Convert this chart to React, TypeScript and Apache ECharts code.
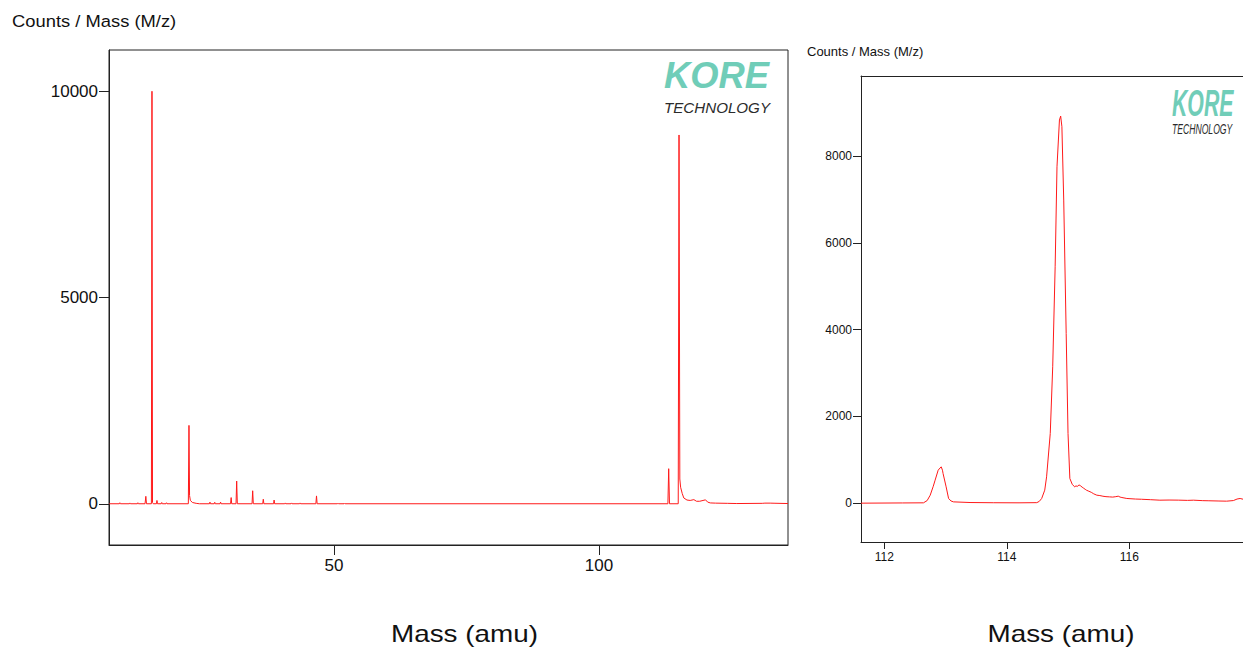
import React, { useEffect, useRef } from "react";
import * as echarts from "echarts";

// Survey spectrum (full mass range): [mass (amu), counts]
const surveySpectrum: [number, number][] = [
  [7.6, 0],
  [9.5, 0], [9.6, 25], [9.7, 0],
  [11.4, 0], [11.5, 20], [11.6, 0],
  [12.9, 0], [13.0, 25], [13.1, 0],
  [14.35, 0], [14.5, 180], [14.62, 0],
  [15.55, 0], [15.66, 10000], [15.76, 30], [15.9, 0],
  [16.5, 0], [16.6, 80], [16.7, 0],
  [17.4, 0], [17.5, 30], [17.6, 0],
  [18.3, 0], [18.4, 25], [18.5, 0],
  [22.52, 0], [22.64, 1900], [22.75, 200], [22.9, 80], [23.3, 30], [24.0, 10], [24.6, 0],
  [26.5, 0], [26.6, 40], [26.7, 0],
  [27.4, 0], [27.5, 35], [27.6, 0],
  [28.5, 0], [28.6, 40], [28.7, 0],
  [30.48, 0], [30.6, 150], [30.7, 0],
  [31.52, 0], [31.64, 550], [31.76, 0],
  [34.54, 0], [34.66, 315], [34.78, 0],
  [36.55, 0], [36.66, 110], [36.77, 0],
  [38.6, 0], [38.7, 90], [38.8, 0],
  [40.7, 0], [40.8, 20], [40.9, 0],
  [41.9, 0], [42.0, 20], [42.1, 0],
  [43.5, 0], [43.6, 20], [43.7, 0],
  [46.58, 0], [46.7, 190], [46.82, 0],
  [50.65, 0], [50.75, 15], [50.85, 0],
  [51.9, 0], [52.0, 15], [52.1, 0],
  [113.0, 0], [113.15, 850], [113.3, 0],
  [114.95, 0], [115.1, 8940], [115.25, 600], [115.4, 400], [115.7, 250], [116.0, 140],
  [116.6, 90], [117.2, 80], [117.9, 100], [118.4, 60], [119.0, 60], [120.1, 95],
  [120.5, 40], [121.0, 20], [122.0, 15], [124.2, 10], [126.0, 5], [130.8, 10],
  [131.3, 15], [132.3, 15], [133.2, 12], [135.66, 5],
];

// Zoomed spectrum around 112–118 amu: [mass (amu), counts]
const zoomSpectrum: [number, number][] = [
  [111.62, 0], [112.3, 5], [112.64, 8], [112.7, 60], [112.75, 184], [112.8, 390],
  [112.83, 530], [112.88, 760], [112.91, 810], [112.93, 837], [112.95, 760],
  [112.96, 684], [113.01, 376], [113.05, 108], [113.09, 50], [113.13, 30],
  [113.4, 15], [113.78, 10], [114.2, 8], [114.49, 12], [114.53, 40], [114.57, 108],
  [114.62, 300], [114.65, 607], [114.71, 1607], [114.75, 3143], [114.79, 5448],
  [114.82, 7753], [114.86, 8830], [114.88, 8922], [114.9, 8676], [114.93, 6986],
  [114.97, 3912], [115.0, 1607], [115.03, 569], [115.07, 430], [115.11, 376],
  [115.13, 400], [115.15, 385], [115.18, 420], [115.2, 405], [115.23, 370],
  [115.25, 350], [115.28, 320], [115.3, 300], [115.34, 275], [115.38, 250],
  [115.42, 215], [115.47, 184], [115.52, 175], [115.57, 160], [115.62, 150],
  [115.68, 145], [115.73, 140], [115.78, 150], [115.82, 161], [115.85, 140],
  [115.88, 130], [115.96, 108], [116.1, 95], [116.2, 90], [116.35, 80], [116.5, 69],
  [116.65, 72], [116.8, 70], [116.95, 64], [117.05, 69], [117.2, 58], [117.3, 55],
  [117.45, 50], [117.59, 46], [117.7, 60], [117.76, 95], [117.81, 108], [117.86, 90],
];

const surveyXTicks = [50, 100];
const surveyYTicks = [0, 5000, 10000];
const zoomXTicks = [112, 114, 116];
const zoomYTicks = [0, 2000, 4000, 6000, 8000];

const FONT = "Liberation Sans";
const AXIS_COLOR = "#222";
const LABEL_COLOR = "#111";
const LINE_COLOR = "#ff1a1a";
const TEAL = "#70cdb8";

const plain = (v: number) => String(v);

function logo(x: number, koreY: number, techY: number, koreSize: number, techSize: number, sx: number) {
  return [
    {
      type: "text",
      x,
      y: koreY,
      scaleX: sx,
      style: {
        text: "KORE",
        fill: TEAL,
        font: `italic bold ${koreSize}px "${FONT}"`,
        textAlign: "left",
        textVerticalAlign: "middle",
      },
    },
    {
      type: "text",
      x,
      y: techY,
      scaleX: sx,
      style: {
        text: "TECHNOLOGY",
        fill: "#2b2b2b",
        font: `italic ${techSize}px "${FONT}"`,
        textAlign: "left",
        textVerticalAlign: "middle",
      },
    },
  ];
}

export default function App() {
  const ref = useRef<HTMLDivElement>(null);

  useEffect(() => {
    if (!ref.current) return;
    const chart = echarts.init(ref.current, null, { renderer: "svg" });

    const axisLine = { show: true, onZero: false, lineStyle: { color: AXIS_COLOR, width: 1 } };

    chart.setOption({
      animation: false,
      backgroundColor: "#fff",
      grid: [
        { left: 109, top: 50, width: 679, height: 495, show: true, borderColor: AXIS_COLOR, borderWidth: 1 },
        // the zoom panel runs off the right edge of the page, so it has no right border
        { left: 861, top: 76, width: 382, height: 466, show: false },
      ],
      xAxis: [
        {
          type: "value",
          gridIndex: 0,
          min: 7.55,
          max: 135.66,
          axisLine,
          axisTick: { show: true, length: 10, customValues: surveyXTicks, lineStyle: { color: AXIS_COLOR } },
          axisLabel: { customValues: surveyXTicks, formatter: plain, fontSize: 17, fontFamily: FONT, color: LABEL_COLOR, margin: 12 },
          splitLine: { show: false },
        },
        {
          type: "value",
          gridIndex: 1,
          min: 111.62,
          max: 117.857,
          axisLine,
          axisTick: { show: true, length: 7, customValues: zoomXTicks, lineStyle: { color: AXIS_COLOR } },
          axisLabel: { customValues: zoomXTicks, formatter: plain, fontSize: 12, fontFamily: FONT, color: LABEL_COLOR, margin: 9 },
          splitLine: { show: false },
        },
        {
          // top edge of the zoom panel
          type: "value",
          gridIndex: 1,
          position: "top",
          min: 111.62,
          max: 117.857,
          axisLine,
          axisTick: { show: false },
          axisLabel: { show: false },
          splitLine: { show: false },
        },
      ],
      yAxis: [
        {
          type: "value",
          gridIndex: 0,
          min: -1000,
          max: 11000,
          axisLine,
          axisTick: { show: true, length: 10, customValues: surveyYTicks, lineStyle: { color: AXIS_COLOR } },
          axisLabel: { customValues: surveyYTicks, formatter: plain, fontSize: 17, fontFamily: FONT, color: LABEL_COLOR, margin: 11 },
          splitLine: { show: false },
        },
        {
          type: "value",
          gridIndex: 1,
          min: -895,
          max: 9845,
          axisLine,
          axisTick: { show: true, length: 8, customValues: zoomYTicks, lineStyle: { color: AXIS_COLOR } },
          axisLabel: { customValues: zoomYTicks, formatter: plain, fontSize: 12, fontFamily: FONT, color: LABEL_COLOR, margin: 9 },
          splitLine: { show: false },
        },
      ],
      series: [
        {
          type: "line",
          xAxisIndex: 0,
          yAxisIndex: 0,
          data: surveySpectrum,
          showSymbol: false,
          lineStyle: { color: LINE_COLOR, width: 1 },
          clip: true,
        },
        {
          type: "line",
          xAxisIndex: 1,
          yAxisIndex: 1,
          data: zoomSpectrum,
          showSymbol: false,
          lineStyle: { color: LINE_COLOR, width: 1 },
          clip: true,
        },
      ],
      graphic: [
        {
          type: "text",
          x: 12,
          y: 21,
          scaleX: 1.08,
          style: { text: "Counts / Mass (M/z)", fill: LABEL_COLOR, font: `17px "${FONT}"`, textAlign: "left", textVerticalAlign: "middle" },
        },
        {
          type: "text",
          x: 807,
          y: 51.5,
          style: { text: "Counts / Mass (M/z)", fill: LABEL_COLOR, font: `13px "${FONT}"`, textAlign: "left", textVerticalAlign: "middle" },
        },
        {
          type: "text",
          x: 464.5,
          y: 633.5,
          scaleX: 1.16,
          style: { text: "Mass (amu)", fill: LABEL_COLOR, font: `24px "${FONT}"`, textAlign: "center", textVerticalAlign: "middle" },
        },
        {
          type: "text",
          x: 1061,
          y: 633.5,
          scaleX: 1.16,
          style: { text: "Mass (amu)", fill: LABEL_COLOR, font: `24px "${FONT}"`, textAlign: "center", textVerticalAlign: "middle" },
        },
        ...logo(664, 76, 107.5, 36, 15, 1.01),
        ...logo(1172, 103.3, 129.5, 37, 15, 0.575),
      ],
    });

    return () => chart.dispose();
  }, []);

  return (
    <div
      ref={ref}
      style={{ position: "fixed", left: 0, top: 0, width: 1243, height: 647, background: "#fff" }}
    />
  );
}
